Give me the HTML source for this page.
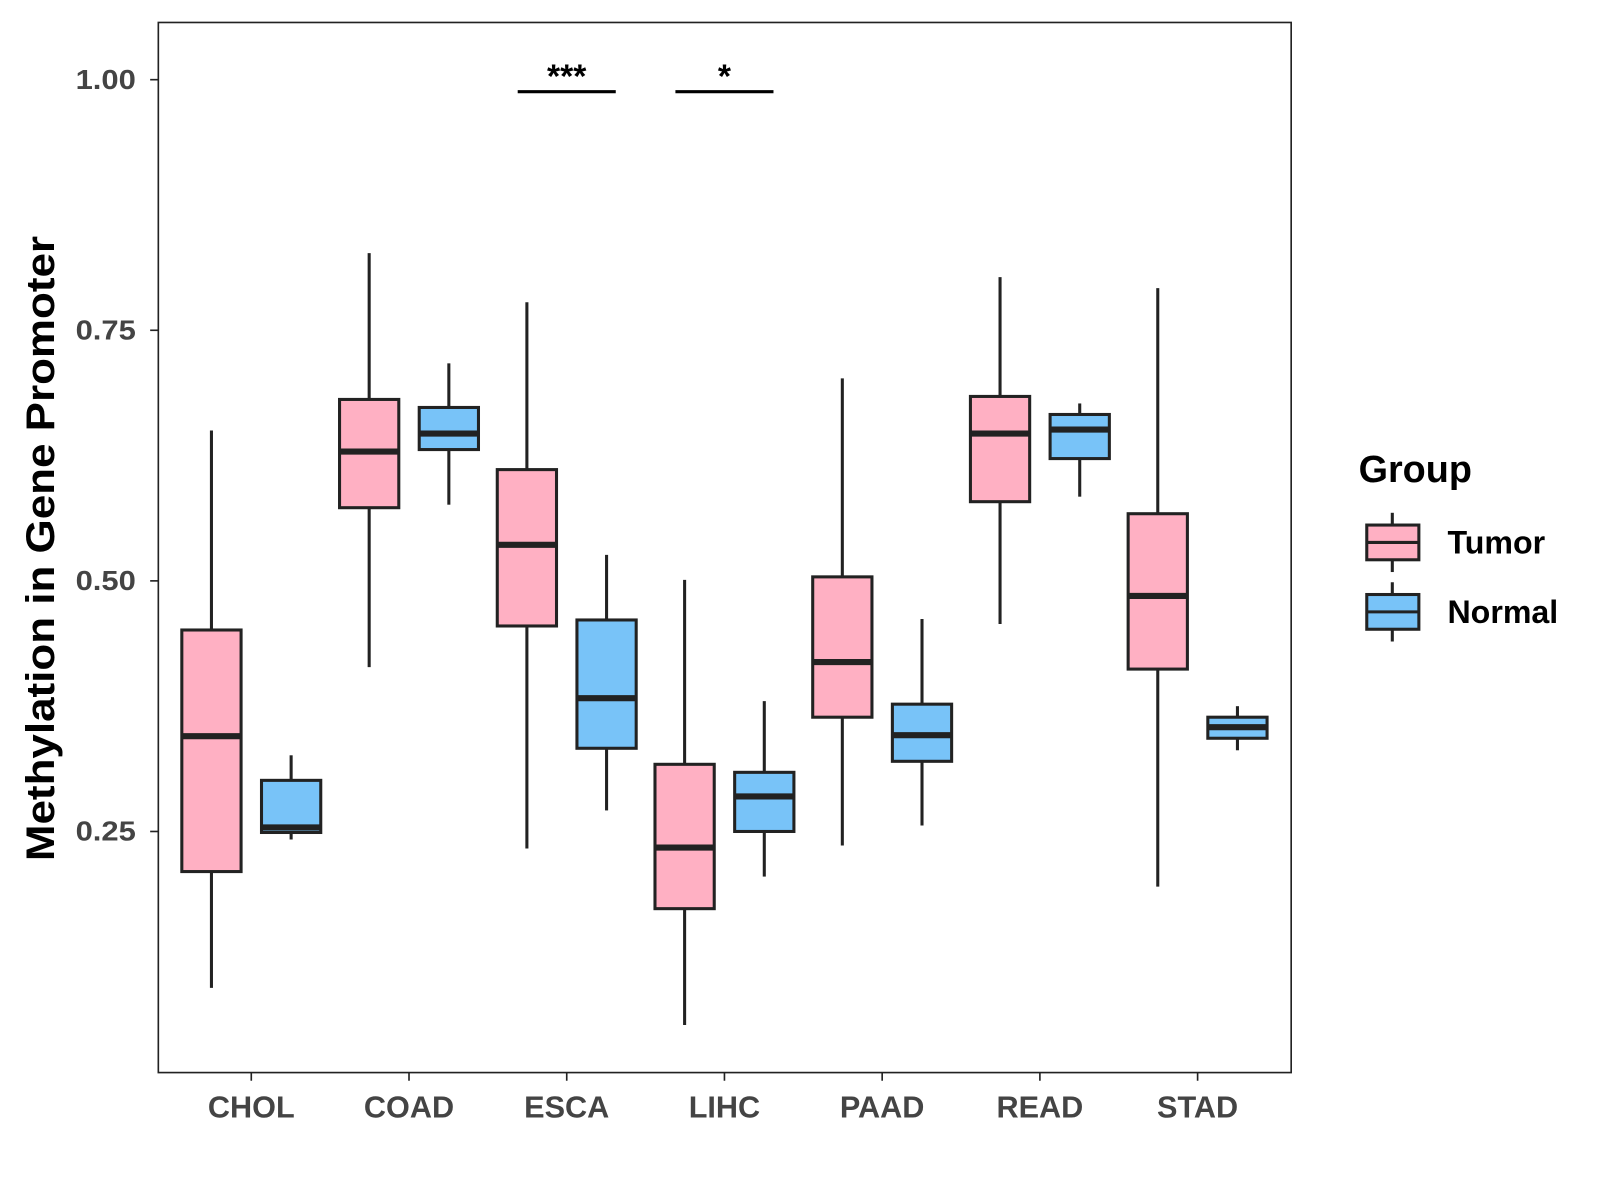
<!DOCTYPE html>
<html>
<head>
<meta charset="utf-8">
<style>
html,body{margin:0;padding:0;background:#fff;}
svg{display:block;font-family:"Liberation Sans",Arial,sans-serif;}
</style>
</head>
<body>
<svg id="chart" width="1600" height="1200" viewBox="0 0 1600 1200"><g id="root" transform="scale(1.0215)"></g></svg>
<script>
const categories = ["CHOL","COAD","ESCA","LIHC","PAAD","READ","STAD"];
// [low, q1, median, q3, high]
const tumorStats = [
  [0.094,0.210,0.345,0.451,0.650],
  [0.414,0.573,0.629,0.681,0.827],
  [0.233,0.455,0.536,0.611,0.778],
  [0.057,0.173,0.234,0.317,0.501],
  [0.236,0.364,0.419,0.504,0.702],
  [0.457,0.579,0.647,0.684,0.803],
  [0.195,0.412,0.485,0.567,0.792]
];
const normalStats = [
  [0.242,0.249,0.254,0.301,0.326],
  [0.576,0.631,0.647,0.673,0.717],
  [0.271,0.333,0.383,0.461,0.526],
  [0.205,0.250,0.285,0.309,0.380],
  [0.256,0.320,0.346,0.377,0.462],
  [0.584,0.622,0.651,0.666,0.677],
  [0.331,0.343,0.354,0.364,0.375]
];
const yTicks = [0.25,0.50,0.75,1.00];
const yTickLabels = ["0.25","0.50","0.75","1.00"];
const sigCategories = ["ESCA","LIHC"];
const sigLabels = ["***","*"];
const sigLevel = 0.988;

const svg = document.getElementById('root');
const NS = "http://www.w3.org/2000/svg";
function mk(tag, attrs, parent){
  const e = document.createElementNS(NS, tag);
  for (const k in attrs) e.setAttribute(k, attrs[k]);
  (parent||svg).appendChild(e);
  return e;
}
const panel = {x0:155, x1:1264, y0:22, y1:1050};
function yScale(v){ return 78 + (1 - v) * 981.3; }
function xScale(i){ return 246 + i * 154.4; }

const frame = mk('rect',{x:panel.x0,y:panel.y0,width:panel.x1-panel.x0,height:panel.y1-panel.y0,fill:'none',stroke:'#222','stroke-width':1.6});



yTicks.forEach((t,i)=>{
  const y = yScale(t);
  const tk = mk('line',{x1:147,x2:155,y1:y,y2:y,stroke:'#222','stroke-width':1.6});
  
  
  const tl = mk('text',{x:133,y:y+9,'text-anchor':'end','font-size':27,'font-weight':'bold',fill:'#444',textLength:59,lengthAdjust:'spacingAndGlyphs'});
  tl.textContent = yTickLabels[i];
  
  
});
categories.forEach((c,i)=>{
  const x = xScale(i);
  const tk = mk('line',{x1:x,x2:x,y1:1050,y2:1058,stroke:'#222','stroke-width':1.6});
  
  
  const tl = mk('text',{x:x,y:1094,'text-anchor':'middle','font-size':30,'font-weight':'bold',fill:'#444'});
  tl.textContent = c;
  
  
});

function drawBox(cx, s, fill, name){
  const g = mk('g',{});
  
  
  const w = 58;
  mk('line',{x1:cx,x2:cx,y1:yScale(s[4]),y2:yScale(s[3]),stroke:'#222','stroke-width':3},g);
  mk('line',{x1:cx,x2:cx,y1:yScale(s[1]),y2:yScale(s[0]),stroke:'#222','stroke-width':3},g);
  mk('rect',{x:cx-w/2,y:yScale(s[3]),width:w,height:yScale(s[1])-yScale(s[3]),fill:fill,stroke:'#222','stroke-width':3},g);
  mk('line',{x1:cx-w/2,x2:cx+w/2,y1:yScale(s[2]),y2:yScale(s[2]),stroke:'#222','stroke-width':6},g);
}
categories.forEach((c,i)=>{
  drawBox(xScale(i)-39, tumorStats[i], '#FFB0C3', 'box-tumor-'+c.toLowerCase());
  drawBox(xScale(i)+39, normalStats[i], '#78C3F8', 'box-normal-'+c.toLowerCase());
});

sigCategories.forEach((c,k)=>{
  const i = categories.indexOf(c);
  const x = xScale(i);
  const y = yScale(sigLevel);
  const ln = mk('line',{x1:x-48,x2:x+48,y1:y,y2:y,stroke:'#000','stroke-width':3});
  
  
  const t = mk('text',{x:x,y:y-4,'text-anchor':'middle','font-size':33,'font-weight':'bold',fill:'#000'});
  t.textContent = sigLabels[k];
  
  
});

const yt = mk('text',{x:0,y:0,transform:'translate(53,537) rotate(-90)','text-anchor':'middle','font-size':39,'font-weight':'bold',fill:'#000',textLength:612,lengthAdjust:'spacingAndGlyphs'});
yt.textContent = 'Methylation in Gene Promoter';



const lg = mk('g',{});


const lt = mk('text',{x:1330,y:472,'font-size':37,'font-weight':'bold',fill:'#000'},lg);
lt.textContent = 'Group';


[['Tumor','#FFB0C3',531],['Normal','#78C3F8',599]].forEach(([lab,col,cy])=>{
  const e = mk('g',{},lg);
  
  
  mk('line',{x1:1363,x2:1363,y1:cy-29,y2:cy+29,stroke:'#222','stroke-width':3},e);
  mk('rect',{x:1338,y:cy-17,width:51,height:34,fill:col,stroke:'#222','stroke-width':3},e);
  mk('line',{x1:1338,x2:1389,y1:cy,y2:cy,stroke:'#222','stroke-width':3},e);
  const t = mk('text',{x:1417,y:cy+11,'font-size':31.5,'font-weight':'bold',fill:'#000'},e);
  t.textContent = lab;
});
</script>
</body>
</html>
